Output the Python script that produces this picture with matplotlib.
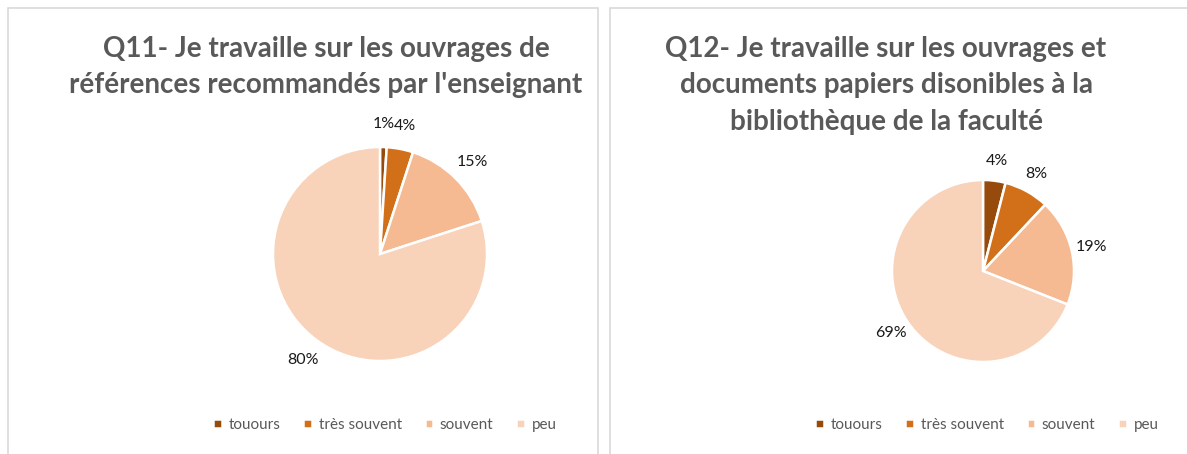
import matplotlib
matplotlib.use("Agg")
import matplotlib.pyplot as plt
from matplotlib.patches import Rectangle

categories = ["touours", "très souvent", "souvent", "peu"]
q11_values = [1, 4, 15, 80]
q12_values = [4, 8, 19, 69]
q11_title = "Q11- Je travaille sur les ouvrages de\nréférences recommandés par l'enseignant"
q12_title = "Q12- Je travaille sur les ouvrages et\ndocuments papiers disonibles à la\nbibliothèque de la faculté"
colors = ["#964B0C", "#D2701A", "#F5BA92", "#F8D3BA"]

plt.rcParams['font.family'] = ['Lato', 'DejaVu Sans']

W, H = 1187, 454
fig = plt.figure(figsize=(W / 100, H / 100), dpi=100)
fig.patch.set_facecolor("white")

# panel borders
for (x0, x1) in [(8, 598), (610, 1200)]:
    fig.patches.append(Rectangle((x0 / W, -0.05), (x1 - x0) / W, (H - 8) / H + 0.05,
                                 transform=fig.transFigure, fill=False,
                                 edgecolor="#D9D9D9", linewidth=1.2))

def draw(values, title, cx, cy, r, title_x, legend_x):
    side = 2 * 1.25 * r
    ax = fig.add_axes([(cx - side / 2) / W, (H - cy - side / 2) / H, side / W, side / H])
    wedges, _, autotexts = ax.pie(values, colors=colors, startangle=90, counterclock=False,
                                  autopct=lambda p: f"{p:.0f}%", pctdistance=1.22,
                                  wedgeprops=dict(edgecolor="white", linewidth=1.8),
                                  textprops=dict(fontsize=11.5, color="#1a1a1a"))
    ax.set_xlim(-1.25, 1.25)
    ax.set_ylim(-1.25, 1.25)
    ax.set_aspect("equal")
    fig.text(title_x / W, 1 - 36 / H, title, ha="center", va="top", fontsize=20,
             fontweight="bold", color="#595959", linespacing=1.5)
    fig.legend(wedges, categories, loc="center", bbox_to_anchor=(legend_x / W, 1 - 425 / H),
               ncol=4, frameon=False, fontsize=11, handlelength=0.55, handleheight=0.55,
               handletextpad=0.45, columnspacing=1.5, labelcolor="#595959")
    return ax

draw(q11_values, q11_title, 380, 254, 107, 326, 385)
draw(q12_values, q12_title, 983, 271, 91, 886, 987)

fig.savefig("out.png", dpi=100)
